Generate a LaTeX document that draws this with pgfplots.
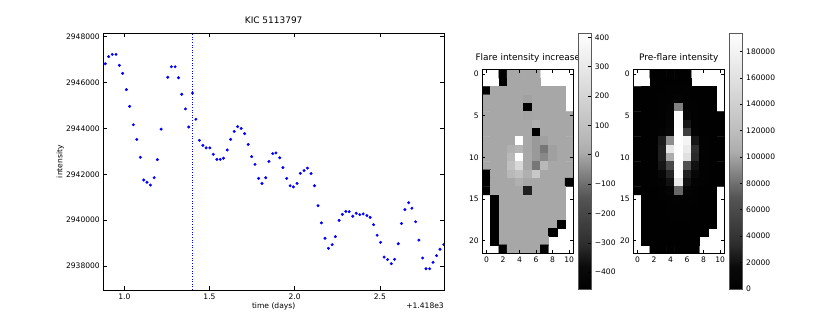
\documentclass[border=0pt]{standalone}
\usepackage{fontspec}
\setmainfont{DejaVu Sans}
\usepackage{pgfplots}
\pgfplotsset{compat=1.18}
\pgfplotsset{
  colormap={mplgray}{gray(0cm)=(0); gray(9cm)=(0.04); gray(18cm)=(0.18); gray(36cm)=(0.33); gray(54cm)=(0.68); gray(63cm)=(0.75); gray(100cm)=(1)},
  mpl/.style={
    scale only axis,
    /pgf/number format/assume math mode=true,
    tick label style={font=\fontsize{7.6}{9}\selectfont},
    title style={font=\fontsize{9}{11}\selectfont, at={(0.5,1)}, anchor=base, inner sep=0pt, yshift=3.8bp},
    tick align=inside,
    axis line style={line width=0.8pt},
    tick style={black, line width=0.6pt},
  },
  % the default colorbar already shifts by 0.3cm; the extra xshift below is added to it
  cbar/.style={
    mpl,
    at={(parent axis.east)}, anchor=west,
    height=256.7bp,
    ytick pos=right, yticklabel pos=right,
    major tick length=3bp,
    axis line style={black!65, line width=0.8pt},
  },
}

\begin{document}
\begin{tikzpicture}
\path[use as bounding box] (0,0) rectangle (830bp,332bp);

% light curve
\begin{axis}[mpl,
  at={(103.3bp,42bp)}, anchor=south west,
  width=340.7bp, height=256.7bp,
  xmin=0.8765, xmax=2.8765, ymin=2936953, ymax=2948148,
  xtick={1.0,1.5,2.0,2.5},
  ytick={2938000,2940000,2942000,2944000,2946000,2948000},
  scaled x ticks=false, scaled y ticks=false,
  xticklabel style={/pgf/number format/.cd, fixed, fixed zerofill, precision=1},
  yticklabel style={/pgf/number format/.cd, fixed, 1000 sep={}},
  major tick length=4bp,
  title={KIC 5113797},
  xlabel={time (days)}, ylabel={intensity},
  every axis x label/.style={at={(axis description cs:0.5,-0.0623)}, anchor=center, font=\fontsize{7.6}{9}\selectfont},
  every axis y label/.style={at={(axis description cs:-0.126,0.5)}, anchor=center, rotate=90, font=\fontsize{7.6}{9}\selectfont},
  clip marker paths=true,
  extra description/.code={
    \node[anchor=east, inner sep=0pt, font=\fontsize{7.6}{9}\selectfont] at (1,-0.0623) {+1.418e3};
  },
]
\addplot[blue, line width=0.6bp, dash pattern=on 1bp off 1.6bp] coordinates {(1.4,2936953) (1.4,2948148)};
\addplot[only marks, mark=*, mark size=1.3pt, blue, mark options={draw=blue, fill=blue}] coordinates {
(0.888,2946820) (0.908,2947130) (0.929,2947230) (0.951,2947230) (0.971,2946750)
(0.990,2946400) (1.012,2945690) (1.031,2944960) (1.053,2944160) (1.073,2943520)
(1.094,2942740) (1.114,2941750) (1.133,2941650) (1.153,2941530) (1.175,2941850)
(1.194,2942640) (1.216,2943970) (1.255,2946230) (1.276,2946690) (1.298,2946690)
(1.318,2946210) (1.337,2945490) (1.359,2944850) (1.378,2944060) (1.400,2945540)
(1.420,2944400) (1.441,2943480) (1.461,2943260) (1.480,2943150) (1.502,2943150)
(1.522,2942870) (1.543,2942650) (1.563,2942650) (1.582,2942700) (1.604,2943060)
(1.624,2943520) (1.645,2943870) (1.665,2944080) (1.686,2944000) (1.706,2943770)
(1.727,2943300) (1.747,2942770) (1.767,2942430) (1.788,2941820) (1.808,2941600)
(1.830,2941850) (1.849,2942560) (1.871,2942900) (1.890,2942930) (1.912,2942720)
(1.931,2942290) (1.953,2941820) (1.973,2941500) (1.992,2941450) (2.014,2941600)
(2.033,2942040) (2.055,2942160) (2.075,2942270) (2.096,2942030) (2.116,2941500)
(2.137,2940630) (2.157,2939880) (2.178,2939210) (2.198,2938770) (2.220,2938930)
(2.239,2939280) (2.261,2939990) (2.280,2940250) (2.300,2940380) (2.320,2940370)
(2.341,2940170) (2.361,2940300) (2.382,2940240) (2.402,2940270) (2.424,2940200)
(2.443,2940120) (2.463,2939800) (2.484,2939340) (2.504,2939030) (2.525,2938390)
(2.545,2938280) (2.567,2938100) (2.586,2938290) (2.608,2938970) (2.627,2939850)
(2.647,2940460) (2.669,2940760) (2.688,2940520) (2.710,2939930) (2.729,2939130)
(2.751,2938350) (2.771,2937880) (2.792,2937880) (2.812,2938160) (2.833,2938450)
(2.853,2938730) (2.875,2938930)
};
\end{axis}

% flare map
\begin{axis}[mpl,
  at={(482.3bp,78.8bp)}, anchor=south west,
  width=91bp, height=183.4bp,
  xmin=-0.5, xmax=10.5, ymin=-0.5, ymax=21.5, y dir=reverse,
  enlargelimits=false, axis on top,
  xtick={0,2,4,6,8,10}, ytick={0,5,10,15,20},
  major tick length=3bp,
  colormap name=mplgray,
  point meta min=-460, point meta max=414,
  title={Flare intensity increase},
  unbounded coords=jump,
  colorbar,
  colorbar style={cbar, xshift=-3.14bp, width=12.6bp,
    ytick={-400,-300,-200,-100,0,100,200,300,400},
    yticklabels={−400,−300,−200,−100,0,100,200,300,400}},
]
\addplot[matrix plot*, mesh/cols=11, point meta=explicit] table[meta=c, row sep=\\] {
x y c\\
0 0 nan\\ 1 0 nan\\ 2 0 -455\\ 3 0 0\\ 4 0 0\\ 5 0 0\\ 6 0 0\\ 7 0 nan\\ 8 0 nan\\ 9 0 nan\\ 10 0 nan\\
0 1 nan\\ 1 1 nan\\ 2 1 -455\\ 3 1 0\\ 4 1 0\\ 5 1 0\\ 6 1 0\\ 7 1 nan\\ 8 1 nan\\ 9 1 nan\\ 10 1 nan\\
0 2 -455\\ 1 2 0\\ 2 2 0\\ 3 2 0\\ 4 2 0\\ 5 2 0\\ 6 2 0\\ 7 2 0\\ 8 2 0\\ 9 2 0\\ 10 2 nan\\
0 3 0\\ 1 3 0\\ 2 3 0\\ 3 3 0\\ 4 3 0\\ 5 3 -10\\ 6 3 0\\ 7 3 0\\ 8 3 0\\ 9 3 0\\ 10 3 nan\\
0 4 0\\ 1 4 0\\ 2 4 0\\ 3 4 0\\ 4 4 0\\ 5 4 -455\\ 6 4 0\\ 7 4 0\\ 8 4 0\\ 9 4 0\\ 10 4 nan\\
0 5 0\\ 1 5 0\\ 2 5 0\\ 3 5 0\\ 4 5 0\\ 5 5 -5\\ 6 5 0\\ 7 5 0\\ 8 5 0\\ 9 5 0\\ 10 5 0\\
0 6 0\\ 1 6 0\\ 2 6 0\\ 3 6 0\\ 4 6 0\\ 5 6 0\\ 6 6 25\\ 7 6 0\\ 8 6 0\\ 9 6 0\\ 10 6 0\\
0 7 0\\ 1 7 0\\ 2 7 0\\ 3 7 0\\ 4 7 0\\ 5 7 0\\ 6 7 -455\\ 7 7 0\\ 8 7 0\\ 9 7 0\\ 10 7 0\\
0 8 0\\ 1 8 0\\ 2 8 0\\ 3 8 0\\ 4 8 410\\ 5 8 0\\ 6 8 -24\\ 7 8 -12\\ 8 8 0\\ 9 8 0\\ 10 8 0\\
0 9 0\\ 1 9 0\\ 2 9 0\\ 3 9 23\\ 4 9 46\\ 5 9 0\\ 6 9 -24\\ 7 9 -84\\ 8 9 -12\\ 9 9 0\\ 10 9 0\\
0 10 0\\ 1 10 0\\ 2 10 0\\ 3 10 57\\ 4 10 410\\ 5 10 3\\ 6 10 -24\\ 7 10 -54\\ 8 10 -12\\ 9 10 0\\ 10 10 0\\
0 11 0\\ 1 11 0\\ 2 11 0\\ 3 11 94\\ 4 11 216\\ 5 11 3\\ 6 11 -84\\ 7 11 57\\ 8 11 0\\ 9 11 0\\ 10 11 0\\
0 12 -455\\ 1 12 0\\ 2 12 0\\ 3 12 57\\ 4 12 94\\ 5 12 23\\ 6 12 134\\ 7 12 0\\ 8 12 0\\ 9 12 0\\ 10 12 0\\
0 13 -455\\ 1 13 0\\ 2 13 0\\ 3 13 0\\ 4 13 23\\ 5 13 0\\ 6 13 0\\ 7 13 0\\ 8 13 0\\ 9 13 0\\ 10 13 -455\\
0 14 -455\\ 1 14 0\\ 2 14 0\\ 3 14 0\\ 4 14 0\\ 5 14 -333\\ 6 14 0\\ 7 14 0\\ 8 14 0\\ 9 14 0\\ 10 14 nan\\
0 15 nan\\ 1 15 -455\\ 2 15 0\\ 3 15 0\\ 4 15 0\\ 5 15 0\\ 6 15 0\\ 7 15 0\\ 8 15 0\\ 9 15 0\\ 10 15 nan\\
0 16 nan\\ 1 16 -455\\ 2 16 0\\ 3 16 0\\ 4 16 0\\ 5 16 0\\ 6 16 0\\ 7 16 0\\ 8 16 0\\ 9 16 0\\ 10 16 nan\\
0 17 nan\\ 1 17 -455\\ 2 17 0\\ 3 17 0\\ 4 17 0\\ 5 17 0\\ 6 17 0\\ 7 17 0\\ 8 17 0\\ 9 17 0\\ 10 17 nan\\
0 18 nan\\ 1 18 -455\\ 2 18 0\\ 3 18 0\\ 4 18 0\\ 5 18 0\\ 6 18 0\\ 7 18 0\\ 8 18 0\\ 9 18 -455\\ 10 18 nan\\
0 19 nan\\ 1 19 -455\\ 2 19 0\\ 3 19 0\\ 4 19 0\\ 5 19 0\\ 6 19 0\\ 7 19 0\\ 8 19 -455\\ 9 19 nan\\ 10 19 nan\\
0 20 nan\\ 1 20 -455\\ 2 20 0\\ 3 20 0\\ 4 20 0\\ 5 20 0\\ 6 20 0\\ 7 20 0\\ 8 20 nan\\ 9 20 nan\\ 10 20 nan\\
0 21 nan\\ 1 21 nan\\ 2 21 -455\\ 3 21 0\\ 4 21 0\\ 5 21 0\\ 6 21 0\\ 7 21 -455\\ 8 21 nan\\ 9 21 nan\\ 10 21 nan\\
};
\end{axis}

% pre-flare map
\begin{axis}[mpl,
  at={(633.3bp,78.8bp)}, anchor=south west,
  width=91bp, height=183.4bp,
  xmin=-0.5, xmax=10.5, ymin=-0.5, ymax=21.5, y dir=reverse,
  enlargelimits=false, axis on top,
  xtick={0,2,4,6,8,10}, ytick={0,5,10,15,20},
  major tick length=3bp,
  colormap name=mplgray,
  point meta min=-760, point meta max=193900,
  title={Pre-flare intensity},
  unbounded coords=jump,
  colorbar,
  colorbar style={cbar, xshift=-3.54bp, width=13.4bp,
    ytick={0,20000,40000,60000,80000,100000,120000,140000,160000,180000},
    scaled y ticks=false,
    yticklabel style={/pgf/number format/.cd, fixed, 1000 sep={}}},
]
\addplot[matrix plot*, mesh/cols=11, point meta=explicit] table[meta=c, row sep=\\] {
x y c\\
0 0 nan\\ 1 0 nan\\ 2 0 800\\ 3 0 900\\ 4 0 1100\\ 5 0 1300\\ 6 0 1000\\ 7 0 nan\\ 8 0 nan\\ 9 0 nan\\ 10 0 nan\\
0 1 nan\\ 1 1 nan\\ 2 1 900\\ 3 1 1000\\ 4 1 1400\\ 5 1 1800\\ 6 1 1200\\ 7 1 nan\\ 8 1 nan\\ 9 1 nan\\ 10 1 nan\\
0 2 600\\ 1 2 900\\ 2 2 1200\\ 3 2 1500\\ 4 2 2200\\ 5 2 3500\\ 6 2 2000\\ 7 2 1400\\ 8 2 1000\\ 9 2 800\\ 10 2 nan\\
0 3 700\\ 1 3 1000\\ 2 3 1400\\ 3 3 2000\\ 4 3 3200\\ 5 3 6000\\ 6 3 3000\\ 7 3 1800\\ 8 3 1200\\ 9 3 900\\ 10 3 nan\\
0 4 800\\ 1 4 1100\\ 2 4 1600\\ 3 4 2500\\ 4 4 4500\\ 5 4 86600\\ 6 4 4000\\ 7 4 2200\\ 8 4 1400\\ 9 4 1000\\ 10 4 nan\\
0 5 800\\ 1 5 1200\\ 2 5 1800\\ 3 5 3000\\ 4 5 6000\\ 5 5 190000\\ 6 5 7000\\ 7 5 2500\\ 8 5 1500\\ 9 5 1000\\ 10 5 700\\
0 6 900\\ 1 6 1300\\ 2 6 2000\\ 3 6 3500\\ 4 6 8000\\ 5 6 192000\\ 6 6 22400\\ 7 6 3000\\ 8 6 1600\\ 9 6 1100\\ 10 6 800\\
0 7 900\\ 1 7 1300\\ 2 7 2200\\ 3 7 4500\\ 4 7 12000\\ 5 7 193000\\ 6 7 48800\\ 7 7 5000\\ 8 7 1800\\ 9 7 1100\\ 10 7 800\\
0 8 1000\\ 1 8 1400\\ 2 8 2500\\ 3 8 25000\\ 4 8 91600\\ 5 8 193000\\ 6 8 182000\\ 7 8 22400\\ 8 8 2500\\ 9 8 1200\\ 10 8 900\\
0 9 1000\\ 1 9 1500\\ 2 9 3000\\ 3 9 27400\\ 4 9 165000\\ 5 9 193000\\ 6 9 171000\\ 7 9 34900\\ 8 9 3500\\ 9 9 1300\\ 10 9 900\\
0 10 1000\\ 1 10 1500\\ 2 10 3000\\ 3 10 27400\\ 4 10 103700\\ 5 10 193000\\ 6 10 159000\\ 7 10 32400\\ 8 10 3500\\ 9 10 1300\\ 10 10 900\\
0 11 1000\\ 1 11 1400\\ 2 11 2800\\ 3 11 22400\\ 4 11 58100\\ 5 11 193000\\ 6 11 65100\\ 7 11 20000\\ 8 11 3000\\ 9 11 1200\\ 10 11 900\\
0 12 900\\ 1 12 1300\\ 2 12 2500\\ 3 12 12000\\ 4 12 29900\\ 5 12 192000\\ 6 12 27400\\ 7 12 12000\\ 8 12 2500\\ 9 12 1100\\ 10 12 800\\
0 13 900\\ 1 13 1200\\ 2 13 2000\\ 3 13 5000\\ 4 13 20000\\ 5 13 171000\\ 6 13 20000\\ 7 13 5000\\ 8 13 2000\\ 9 13 1000\\ 10 13 800\\
0 14 800\\ 1 14 1100\\ 2 14 1800\\ 3 14 3000\\ 4 14 6000\\ 5 14 76800\\ 6 14 6000\\ 7 14 3000\\ 8 14 1600\\ 9 14 900\\ 10 14 nan\\
0 15 nan\\ 1 15 1000\\ 2 15 1500\\ 3 15 2200\\ 4 15 3500\\ 5 15 5000\\ 6 15 3500\\ 7 15 2200\\ 8 15 1400\\ 9 15 800\\ 10 15 nan\\
0 16 nan\\ 1 16 900\\ 2 16 1300\\ 3 16 1800\\ 4 16 2500\\ 5 16 3000\\ 6 16 2500\\ 7 16 1800\\ 8 16 1200\\ 9 16 700\\ 10 16 nan\\
0 17 nan\\ 1 17 800\\ 2 17 1100\\ 3 17 1500\\ 4 17 2000\\ 5 17 2200\\ 6 17 2000\\ 7 17 1500\\ 8 17 1000\\ 9 17 700\\ 10 17 nan\\
0 18 nan\\ 1 18 700\\ 2 18 1000\\ 3 18 1300\\ 4 18 1600\\ 5 18 1800\\ 6 18 1600\\ 7 18 1300\\ 8 18 900\\ 9 18 600\\ 10 18 nan\\
0 19 nan\\ 1 19 700\\ 2 19 900\\ 3 19 1100\\ 4 19 1300\\ 5 19 1400\\ 6 19 1300\\ 7 19 1100\\ 8 19 800\\ 9 19 nan\\ 10 19 nan\\
0 20 nan\\ 1 20 600\\ 2 20 800\\ 3 20 1000\\ 4 20 1100\\ 5 20 1200\\ 6 20 1100\\ 7 20 1000\\ 8 20 nan\\ 9 20 nan\\ 10 20 nan\\
0 21 nan\\ 1 21 nan\\ 2 21 700\\ 3 21 900\\ 4 21 1000\\ 5 21 1000\\ 6 21 900\\ 7 21 800\\ 8 21 nan\\ 9 21 nan\\ 10 21 nan\\
};
\end{axis}
\end{tikzpicture}
\end{document}
